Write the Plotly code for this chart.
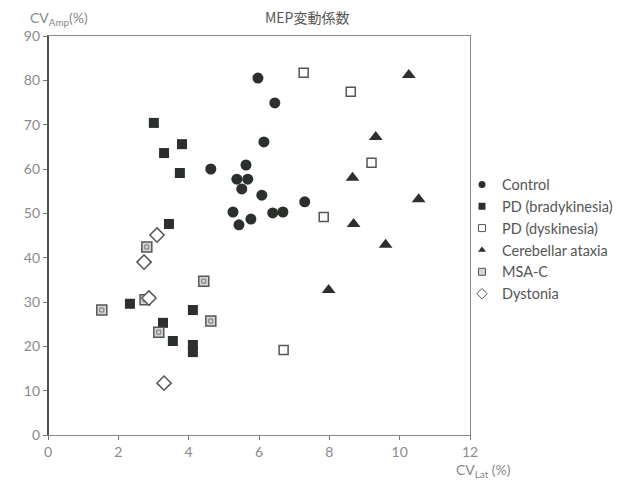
import plotly.graph_objects as go

# CV of MEP latency (x, %) and amplitude (y, %) for each patient group
control_x = [5.97, 6.45, 6.14, 4.63, 5.63, 5.37, 5.68, 5.51, 6.08, 5.26, 5.43, 5.77, 6.39, 6.68, 7.30]
control_y = [80.5, 74.9, 66.1, 60.0, 60.9, 57.7, 57.7, 55.5, 54.1, 50.3, 47.4, 48.7, 50.1, 50.3, 52.6]

brady_x = [3.01, 3.81, 3.30, 3.75, 3.44, 2.33, 4.12, 3.27, 3.55, 4.12, 4.12]
brady_y = [70.4, 65.6, 63.6, 59.1, 47.6, 29.6, 28.2, 25.3, 21.2, 20.3, 18.7]

dysk_x = [7.27, 8.61, 9.20, 7.84, 6.70]
dysk_y = [81.7, 77.4, 61.4, 49.2, 19.2]

ataxia_x = [10.26, 9.32, 8.66, 10.54, 8.69, 9.60, 7.98]
ataxia_y = [81.2, 67.2, 58.0, 53.2, 47.6, 42.9, 32.7]

msa_x = [2.81, 4.43, 1.53, 2.76, 4.63, 3.15]
msa_y = [42.4, 34.7, 28.2, 30.5, 25.7, 23.2]

dyst_x = [3.10, 2.73, 2.87, 3.30]
dyst_y = [45.1, 39.0, 30.9, 11.7]

x_ticks = [0, 2, 4, 6, 8, 10, 12]
y_ticks = [0, 10, 20, 30, 40, 50, 60, 70, 80, 90]

DARK = "#2b302c"
EDGE = "#555555"
FONT = "Lato, 'Open Sans', sans-serif"

# marker styles per group
styles = {
    "Control": dict(symbol="circle", size=11, color=DARK, line=dict(width=0)),
    "PD (bradykinesia)": dict(symbol="square", size=10, color=DARK, line=dict(width=0)),
    "PD (dyskinesia)": dict(symbol="square", size=9, color="white", line=dict(width=1.5, color=EDGE)),
    "Cerebellar ataxia": dict(symbol="triangle-up", size=12, color=DARK, line=dict(width=0)),
    "MSA-C": dict(symbol="square", size=10, color="#d4d4d4", line=dict(width=1.5, color=EDGE)),
    "Dystonia": dict(symbol="diamond", size=11, color="white", line=dict(width=1.5, color=EDGE)),
}
series = {
    "Control": (control_x, control_y),
    "PD (bradykinesia)": (brady_x, brady_y),
    "PD (dyskinesia)": (dysk_x, dysk_y),
    "Cerebellar ataxia": (ataxia_x, ataxia_y),
    "MSA-C": (msa_x, msa_y),
    "Dystonia": (dyst_x, dyst_y),
}

fig = go.Figure()

for name, (xs, ys) in series.items():
    fig.add_trace(go.Scatter(
        x=xs, y=ys, mode="markers", name=name, showlegend=False,
        legendgroup=name, marker=styles[name],
    ))
    if name == "MSA-C":
        # inner outline of the double-square marker
        fig.add_trace(go.Scatter(
            x=xs, y=ys, mode="markers", showlegend=False, legendgroup=name,
            hoverinfo="skip",
            marker=dict(symbol="square", size=4, color="#d4d4d4",
                        line=dict(width=1, color="#777777")),
        ))

# compact legend keys
for name in series:
    st = dict(styles[name])
    st["size"] = 7 if name != "Dystonia" else 8
    if st["line"].get("width", 0):
        st["line"] = dict(width=1, color=EDGE)
    fig.add_trace(go.Scatter(
        x=[None], y=[None], mode="markers", name=name, legendgroup=name,
        marker=st,
    ))

axis_common = dict(
    showgrid=False, zeroline=False, showline=True, mirror=True,
    linecolor="#888888", linewidth=1.2, ticks="outside", ticklen=4,
    tickcolor="#777777", tickfont=dict(family=FONT, size=14, color="#8a8a8a"),
)
fig.update_xaxes(range=[0, 12], tickvals=x_ticks, **axis_common)
fig.update_yaxes(range=[0, 90], tickvals=y_ticks, **axis_common)

# heavier left axis line
fig.add_shape(type="line", xref="paper", yref="paper", x0=0, x1=0, y0=0, y1=1,
              line=dict(color="#4a534c", width=2))

fig.update_layout(
    width=624, height=484,
    margin=dict(l=48, r=154, t=36, b=49, autoexpand=False),
    plot_bgcolor="white", paper_bgcolor="white",
    font=dict(family=FONT, color="#555555"),
    showlegend=True,
    legend=dict(
        x=(462 - 48) / 422, y=0.668, xanchor="left", yanchor="top",
        font=dict(family=FONT, size=14.5, color="#555555"),
        itemwidth=30, tracegroupgap=0, bgcolor="rgba(0,0,0,0)",
    ),
    annotations=[
        dict(text="MEP変動係数", x=(307 - 48) / 422, y=1 + (36 - 17) / 399,
             xref="paper", yref="paper", xanchor="center", yanchor="middle",
             showarrow=False, font=dict(family="Noto Sans CJK JP", size=14, color="#555555")),
        dict(text="CV<sub>Amp</sub>(%)", x=0.0, y=1.0, xref="paper", yref="paper",
             xanchor="right", yanchor="bottom", xshift=42, yshift=6, showarrow=False,
             font=dict(family=FONT, size=14, color="#888888")),
        dict(text="CV<sub>Lat</sub> (%)", x=1.0, y=0.0, xref="paper", yref="paper",
             xanchor="left", yanchor="top", xshift=-16, yshift=-24, showarrow=False,
             font=dict(family=FONT, size=14, color="#888888")),
    ],
)

fig.write_html("out.html")
